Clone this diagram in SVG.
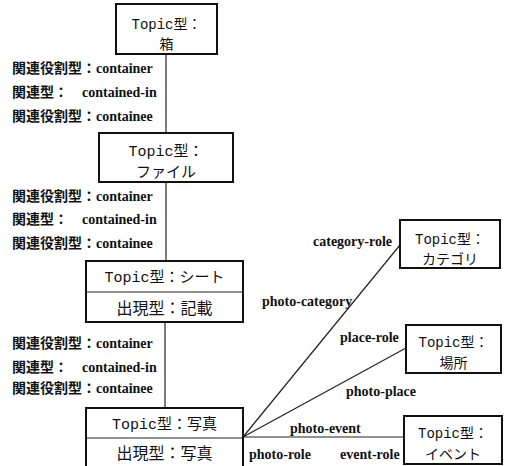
<svg xmlns="http://www.w3.org/2000/svg" width="507" height="466" viewBox="0 0 507 466">
<style>
.box{fill:#fff;stroke:#111;stroke-width:2}
.ln{stroke:#222;stroke-width:1.2;fill:none}
.bt{font-family:"Liberation Mono","Noto Sans CJK JP",monospace;fill:#111;text-anchor:middle}
.lb{font-family:"Liberation Serif","Noto Sans CJK JP",serif;font-weight:bold;font-size:14px;fill:#111}
.jp{font-family:"Noto Sans CJK JP",sans-serif;font-size:14px}
</style>
<rect width="507" height="466" fill="#fff"/>
<g id="connectors">
<line class="ln" x1="166" y1="54" x2="166" y2="133"/>
<line class="ln" x1="166" y1="182" x2="166" y2="261"/>
<line class="ln" x1="165" y1="322" x2="165" y2="408"/>
<line class="ln" x1="243" y1="437" x2="400" y2="245"/>
<line class="ln" x1="243" y1="437" x2="406" y2="348"/>
<line class="ln" x1="243" y1="437" x2="404" y2="437"/>
</g>
<g id="labels-1">
<text class="lb" x="12" y="73"><tspan class="jp">関連役割型：</tspan>container</text>
<text class="lb" x="12" y="97"><tspan class="jp">関連型：</tspan><tspan x="82">contained-in</tspan></text>
<text class="lb" x="12" y="121"><tspan class="jp">関連役割型：</tspan>containee</text>
</g>
<g id="labels-2">
<text class="lb" x="12" y="201"><tspan class="jp">関連役割型：</tspan>container</text>
<text class="lb" x="12" y="224"><tspan class="jp">関連型：</tspan><tspan x="82">contained-in</tspan></text>
<text class="lb" x="12" y="248"><tspan class="jp">関連役割型：</tspan>containee</text>
</g>
<g id="labels-3">
<text class="lb" x="12" y="348"><tspan class="jp">関連役割型：</tspan>container</text>
<text class="lb" x="12" y="372"><tspan class="jp">関連型：</tspan><tspan x="82">contained-in</tspan></text>
<text class="lb" x="12" y="393"><tspan class="jp">関連役割型：</tspan>containee</text>
</g>
<g id="assoc-labels">
<text class="lb" x="313" y="246">category-role</text>
<text class="lb" x="262" y="306">photo-category</text>
<text class="lb" x="340" y="342">place-role</text>
<text class="lb" x="346" y="396">photo-place</text>
<text class="lb" x="290" y="433">photo-event</text>
<text class="lb" x="249" y="459">photo-role</text>
<text class="lb" x="340" y="459">event-role</text>
</g>
<g id="node-box">
<rect class="box" x="116" y="4" width="101" height="50"/>
<text class="bt" x="166.5" y="29" font-size="14">Topic型：</text>
<text class="bt" x="166.5" y="49" font-size="14">箱</text>
</g>
<g id="node-file">
<rect class="box" x="99" y="133" width="134" height="49"/>
<text class="bt" x="166" y="156" font-size="15">Topic型：</text>
<text class="bt" x="166" y="177" font-size="15">ファイル</text>
</g>
<g id="node-sheet">
<rect class="box" x="86" y="261" width="157" height="61"/>
<line class="ln" x1="86" y1="292" x2="243" y2="292"/>
<text class="bt" x="164.5" y="282" font-size="15">Topic型：シート</text>
<text class="bt" x="164.5" y="314" font-size="16">出現型：記載</text>
</g>
<g id="node-photo">
<rect class="box" x="86" y="408" width="157" height="62"/>
<line class="ln" x1="86" y1="438" x2="243" y2="438"/>
<text class="bt" x="164.5" y="429" font-size="15">Topic型：写真</text>
<text class="bt" x="164.5" y="459" font-size="16">出現型：写真</text>
</g>
<g id="node-category">
<rect class="box" x="400" y="220" width="100" height="48"/>
<text class="bt" x="450" y="244" font-size="14">Topic型：</text>
<text class="bt" x="450" y="264" font-size="14">カテゴリ</text>
</g>
<g id="node-place">
<rect class="box" x="406" y="325" width="95" height="48"/>
<text class="bt" x="453.5" y="347" font-size="14">Topic型：</text>
<text class="bt" x="453.5" y="368" font-size="14">場所</text>
</g>
<g id="node-event">
<rect class="box" x="404" y="416" width="98" height="48"/>
<text class="bt" x="453" y="438" font-size="14">Topic型：</text>
<text class="bt" x="453" y="459" font-size="14">イベント</text>
</g>
</svg>
